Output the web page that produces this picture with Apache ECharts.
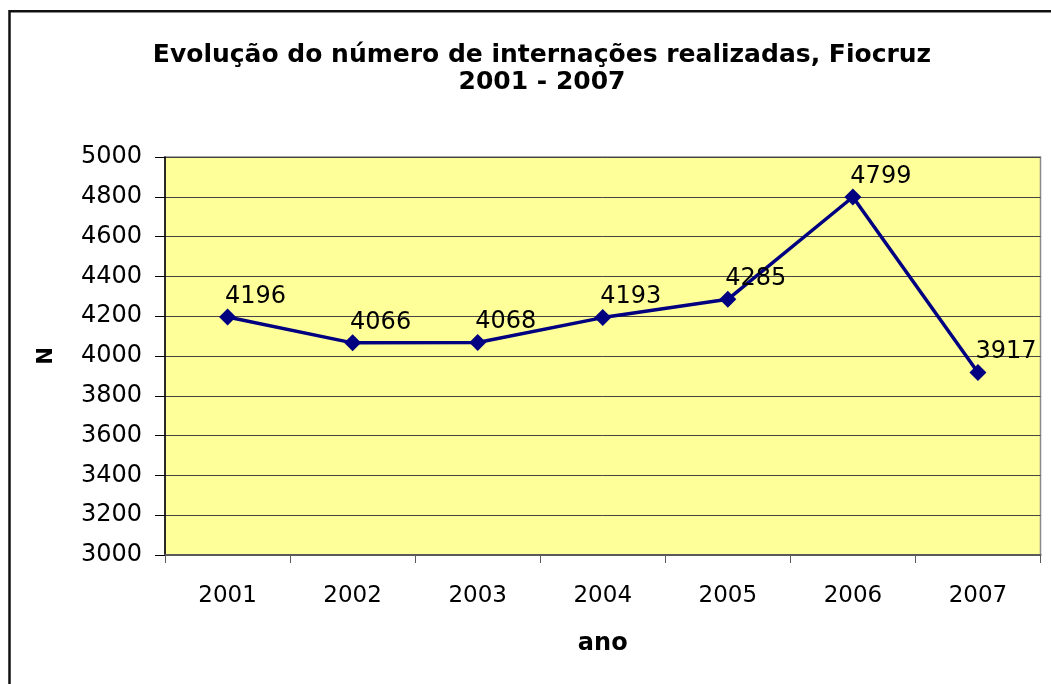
<!DOCTYPE html>
<html>
<head>
<meta charset="utf-8">
<script src="https://cdn.jsdelivr.net/npm/echarts@6/dist/echarts.min.js"></script>
<style>
  html, body { margin: 0; padding: 0; background: #fff; }
</style>
</head>
<body>
<div id="main" style="width: 1051px; height: 684px"></div>
<script>
// dados
var anos = ['2001', '2002', '2003', '2004', '2005', '2006', '2007'];
var internacoes = [4196, 4066, 4068, 4193, 4285, 4799, 3917];
var yMin = 3000, yMax = 5000, yStep = 200;

var fonte = 'DejaVu Sans';

var option = {
  animation: false,
  backgroundColor: '#fff',
  title: {
    text: 'Evolução do número de internações realizadas, Fiocruz\n2001 - 2007',
    left: 537,
    top: 37,
    textAlign: 'center',
    textStyle: {
      fontFamily: fonte,
      fontSize: 25,
      fontWeight: 'bold',
      color: '#000',
      lineHeight: 27
    }
  },
  graphic: [
    { // moldura externa
      type: 'rect',
      shape: { x: 9.5, y: 11.3, width: 1200, height: 900 },
      style: { fill: null, stroke: '#111', lineWidth: 2.5 },
      silent: true
    }
  ],
  grid: {
    left: 165,
    top: 157,
    right: 10.5,
    bottom: 129,
    show: true,
    backgroundColor: '#FFFF99',
    borderColor: '#8a8a8a',
    borderWidth: 1.5
  },
  xAxis: {
    type: 'category',
    data: anos,
    boundaryGap: true,
    name: 'ano',
    nameLocation: 'middle',
    nameGap: 77,
    nameTextStyle: { fontFamily: fonte, fontSize: 24, fontWeight: 'bold', color: '#000' },
    axisLine: { lineStyle: { color: '#5a5a5a', width: 2 } },
    axisTick: { show: true, length: 8, lineStyle: { color: '#5a5a5a', width: 1 } },
    axisLabel: { fontFamily: fonte, fontSize: 23, color: '#000', margin: 30 }
  },
  yAxis: {
    type: 'value',
    min: yMin,
    max: yMax,
    interval: yStep,
    name: 'N',
    nameLocation: 'middle',
    nameRotate: 90,
    nameGap: 108,
    nameTextStyle: { fontFamily: fonte, fontSize: 21, fontWeight: 'bold', color: '#000' },
    axisLine: { show: true, lineStyle: { color: '#000', width: 1.5 } },
    axisTick: { show: true, length: 10, lineStyle: { color: '#000', width: 1 } },
    axisLabel: {
      fontFamily: fonte, fontSize: 24, color: '#000', margin: 23,
      formatter: function (v) { return String(v); }
    },
    splitLine: { show: true, lineStyle: { color: '#444', width: 1 } }
  },
  series: [
    {
      name: 'Internações',
      type: 'line',
      data: internacoes,
      symbol: 'diamond',
      symbolSize: 17,
      lineStyle: { color: '#000080', width: 3.5 },
      itemStyle: { color: '#000080' },
      label: {
        show: true,
        position: 'top',
        distance: 0,
        offset: [28, 0],
        fontFamily: fonte,
        fontSize: 24,
        color: '#000'
      }
    }
  ]
};

var chartDom = document.getElementById('main');
var myChart = echarts.init(chartDom);
myChart.setOption(option);
</script>
</body>
</html>
